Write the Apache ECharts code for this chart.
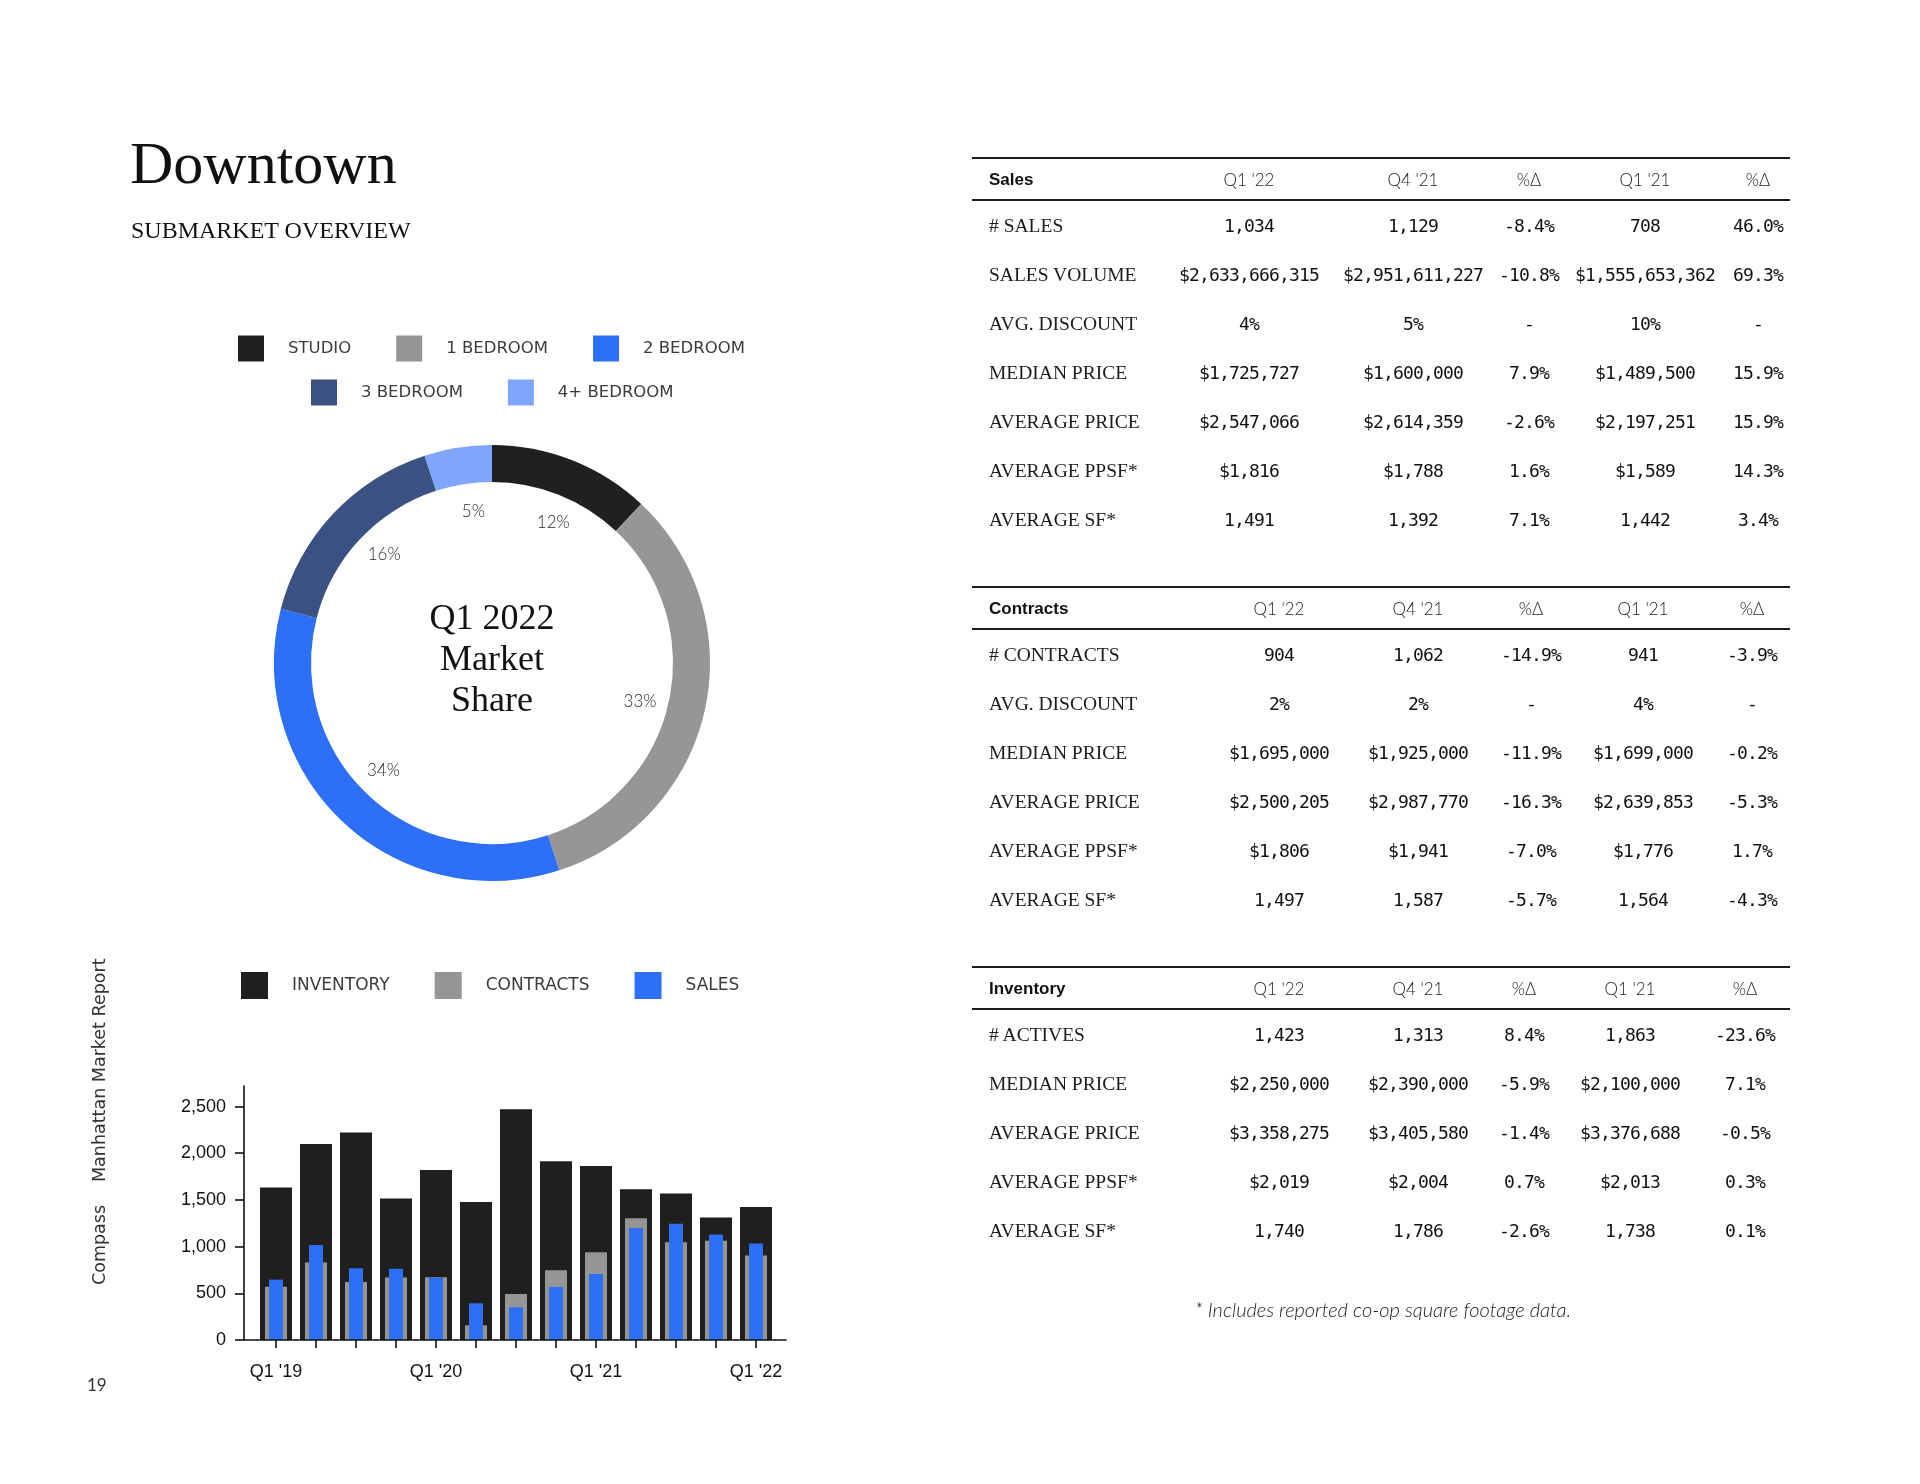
<!DOCTYPE html>
<html>
<head>
<meta charset="utf-8">
<script src="https://cdn.jsdelivr.net/npm/echarts@6/dist/echarts.min.js"></script>
<style>
html,body{margin:0;padding:0;background:#fff;}
#page{position:relative;width:1920px;height:1484px;overflow:hidden;background:#fff;}
#chart{position:absolute;left:0;top:0;width:1920px;height:1484px;}
#overlay{position:absolute;left:0;top:0;width:1920px;height:1484px;pointer-events:none;}
.t{position:absolute;white-space:nowrap;}
.rule{position:absolute;background:#1c1c1c;}
</style>
</head>
<body>
<div id="page"><div id="chart"></div><div id="overlay"></div></div>
<script>
// ---------- Donut data ----------
const unitTypes = ['STUDIO', '1 BEDROOM', '2 BEDROOM', '3 BEDROOM', '4+ BEDROOM'];
const unitShares = [12, 33, 34, 16, 5];
const unitColors = ['#202020', '#969696', '#2d6ff7', '#3a5181', '#7da6fc'];

// ---------- Bar data ----------
const quarters = ["Q1 '19","Q2 '19","Q3 '19","Q4 '19","Q1 '20","Q2 '20","Q3 '20","Q4 '20","Q1 '21","Q2 '21","Q3 '21","Q4 '21","Q1 '22"];
const inventory = [1632, 2100, 2221, 1514, 1821, 1479, 2471, 1914, 1863, 1614, 1568, 1313, 1423];
const contracts = [571, 829, 621, 668, 672, 157, 493, 746, 941, 1304, 1046, 1062, 904];
const sales = [646, 1018, 768, 764, 668, 393, 350, 568, 708, 1200, 1246, 1129, 1034];
const barNames = ['INVENTORY', 'CONTRACTS', 'SALES'];
const barColors = ['#1f1f1f', '#959595', '#2d6ff7'];
const yTicks = [0, 500, 1000, 1500, 2000, 2500];
const xLabelIdx = [0, 4, 8, 12];

// ---------- Table data ----------
const tableHeaders = ["Q1 '22", "Q4 '21", "%Δ", "Q1 '21", "%Δ"];

const salesRows = ['# SALES','SALES VOLUME','AVG. DISCOUNT','MEDIAN PRICE','AVERAGE PRICE','AVERAGE PPSF*','AVERAGE SF*'];
const salesQ122 = ['1,034','$2,633,666,315','4%','$1,725,727','$2,547,066','$1,816','1,491'];
const salesQ421 = ['1,129','$2,951,611,227','5%','$1,600,000','$2,614,359','$1,788','1,392'];
const salesChgQ = ['-8.4%','-10.8%','-','7.9%','-2.6%','1.6%','7.1%'];
const salesQ121 = ['708','$1,555,653,362','10%','$1,489,500','$2,197,251','$1,589','1,442'];
const salesChgY = ['46.0%','69.3%','-','15.9%','15.9%','14.3%','3.4%'];

const contractsRows = ['# CONTRACTS','AVG. DISCOUNT','MEDIAN PRICE','AVERAGE PRICE','AVERAGE PPSF*','AVERAGE SF*'];
const contractsQ122 = ['904','2%','$1,695,000','$2,500,205','$1,806','1,497'];
const contractsQ421 = ['1,062','2%','$1,925,000','$2,987,770','$1,941','1,587'];
const contractsChgQ = ['-14.9%','-','-11.9%','-16.3%','-7.0%','-5.7%'];
const contractsQ121 = ['941','4%','$1,699,000','$2,639,853','$1,776','1,564'];
const contractsChgY = ['-3.9%','-','-0.2%','-5.3%','1.7%','-4.3%'];

const inventoryRows = ['# ACTIVES','MEDIAN PRICE','AVERAGE PRICE','AVERAGE PPSF*','AVERAGE SF*'];
const inventoryQ122 = ['1,423','$2,250,000','$3,358,275','$2,019','1,740'];
const inventoryQ421 = ['1,313','$2,390,000','$3,405,580','$2,004','1,786'];
const inventoryChgQ = ['8.4%','-5.9%','-1.4%','0.7%','-2.6%'];
const inventoryQ121 = ['1,863','$2,100,000','$3,376,688','$2,013','1,738'];
const inventoryChgY = ['-23.6%','7.1%','-0.5%','0.3%','0.1%'];

// ---------- Chart ----------
const chart = echarts.init(document.getElementById('chart'), null, {renderer: 'canvas'});

const xMin = -0.8, xMax = 12.75, yMax = 2720;
const axisColor = '#111';
const legendBase = {
  orient: 'horizontal', padding: 0, icon: 'rect', selectedMode: false,
  textStyle: {fontFamily: 'DejaVu Sans', fontSize: 16.5, color: '#3c3c3c', padding: [0, 0, 0, 19]}
};

const option = {
  animation: false,
  backgroundColor: '#ffffff',
  legend: [
    Object.assign({}, legendBase, {
      data: unitTypes.slice(0, 3).map((n, i) => ({name: n, itemStyle: {color: unitColors[i]}})),
      left: 238, top: 335.5, itemWidth: 26, itemHeight: 26, itemGap: 45
    }),
    Object.assign({}, legendBase, {
      data: unitTypes.slice(3).map((n, i) => ({name: n, itemStyle: {color: unitColors[i + 3]}})),
      left: 311, top: 379.5, itemWidth: 26, itemHeight: 26, itemGap: 45
    }),
    Object.assign({}, legendBase, {
      data: barNames.map((n, i) => ({name: n, itemStyle: {color: barColors[i]}})),
      left: 241, top: 972, itemWidth: 27, itemHeight: 27, itemGap: 45,
      textStyle: {fontFamily: 'DejaVu Sans', fontSize: 17, color: '#3c3c3c', padding: [0, 0, 0, 19]}
    })
  ],
  grid: [{left: 244, top: 1086, width: 542, height: 254, containLabel: false, outerBoundsMode: 'none'}],
  xAxis: [
    {
      type: 'value', gridIndex: 0, min: xMin, max: xMax, position: 'bottom', z: 10,
      axisLine: {show: true, onZero: false, lineStyle: {color: axisColor, width: 1.6}},
      axisTick: {show: true, length: 8, inside: false, lineStyle: {color: axisColor, width: 1.6},
                 customValues: quarters.map((q, i) => i)},
      axisLabel: {show: true, customValues: xLabelIdx, margin: 23,
                  formatter: v => (Number.isInteger(v) && xLabelIdx.indexOf(v) >= 0) ? quarters[v] : '',
                  fontFamily: 'Liberation Sans', fontSize: 18, color: '#111'},
      splitLine: {show: false}
    },
    {type: 'value', gridIndex: 0, min: xMin, max: xMax, show: false},
    {type: 'value', gridIndex: 0, min: xMin, max: xMax, show: false}
  ],
  yAxis: [{
    type: 'value', gridIndex: 0, min: 0, max: yMax, z: 10,
    axisLine: {show: true, onZero: false, lineStyle: {color: axisColor, width: 1.6}},
    axisTick: {show: true, length: 9, inside: false, lineStyle: {color: axisColor, width: 1.6}, customValues: yTicks},
    axisLabel: {show: true, customValues: yTicks, margin: 18,
                formatter: v => (yTicks.indexOf(v) >= 0 ? v.toLocaleString('en-US') : ''),
                fontFamily: 'Liberation Sans', fontSize: 18, color: '#111'},
    splitLine: {show: false}
  }],
  graphic: [{
    type: 'text', x: 492, y: 661, silent: true,
    style: {
      text: 'Q1 2022\nMarket\nShare', fontFamily: 'Liberation Serif', fontSize: 36,
      fill: '#111', align: 'center', verticalAlign: 'middle', lineHeight: 41
    }
  }],
  series: [
    {
      type: 'pie', name: 'Market Share', center: [492, 663], radius: [181, 218],
      startAngle: 90, clockwise: true, silent: true,
      label: {show: false}, labelLine: {show: false}, emphasis: {disabled: true},
      itemStyle: {borderWidth: 0},
      data: unitTypes.map((n, i) => ({name: n, value: unitShares[i], itemStyle: {color: unitColors[i]}}))
    },
    {
      type: 'pie', name: 'Share Labels', center: [492, 663], radius: [124, 176],
      startAngle: 88, clockwise: true, silent: true, emphasis: {disabled: true},
      itemStyle: {color: 'rgba(0,0,0,0)', borderWidth: 0},
      label: {show: true, position: 'inside', formatter: '{c}%',
              fontFamily: 'Lato', fontWeight: 300, fontSize: 17, color: '#2a2a2a'},
      labelLine: {show: false},
      data: unitTypes.map((n, i) => ({name: n, value: unitShares[i], itemStyle: {color: 'rgba(0,0,0,0)'}}))
    },
    {
      type: 'bar', name: barNames[0], xAxisIndex: 0, yAxisIndex: 0, barWidth: 32,
      itemStyle: {color: barColors[0]}, silent: true,
      data: inventory.map((v, i) => [i, v])
    },
    {
      type: 'bar', name: barNames[1], xAxisIndex: 1, yAxisIndex: 0, barWidth: 22,
      itemStyle: {color: barColors[1]}, silent: true,
      data: contracts.map((v, i) => [i, v])
    },
    {
      type: 'bar', name: barNames[2], xAxisIndex: 2, yAxisIndex: 0, barWidth: 14,
      itemStyle: {color: barColors[2]}, silent: true,
      data: sales.map((v, i) => [i, v])
    }
  ]
};
chart.setOption(option);

// ---------- HTML text & tables ----------
const ov = document.getElementById('overlay');
function txt(s, x, cy, style, align) {
  const d = document.createElement('div');
  d.className = 't';
  d.textContent = s;
  Object.assign(d.style, style);
  const h = 40;
  d.style.top = (cy - h / 2) + 'px';
  d.style.height = h + 'px';
  d.style.lineHeight = h + 'px';
  if (align === 'center') {
    d.style.left = (x - 200) + 'px';
    d.style.width = '400px';
    d.style.textAlign = 'center';
  } else {
    d.style.left = x + 'px';
  }
  ov.appendChild(d);
  return d;
}
function rule(x, y, w) {
  const d = document.createElement('div');
  d.className = 'rule';
  d.style.left = x + 'px';
  d.style.top = (y - 1) + 'px';
  d.style.width = w + 'px';
  d.style.height = '2px';
  ov.appendChild(d);
}

const serif = '"Liberation Serif", "DejaVu Serif", serif';
txt('Downtown', 130, 162.5, {fontFamily: serif, fontSize: '60px', color: '#111'});
txt('SUBMARKET OVERVIEW', 131, 230, {fontFamily: serif, fontSize: '24px', color: '#111'});

// vertical side text
function vtext(s, x, yBottom) {
  const d = document.createElement('div');
  d.className = 't';
  d.textContent = s;
  Object.assign(d.style, {
    fontFamily: '"DejaVu Sans", sans-serif', fontSize: '17.5px', color: '#333',
    lineHeight: '20px', height: '20px', left: x + 'px', top: yBottom + 'px',
    transformOrigin: '0 0', transform: 'rotate(-90deg)'
  });
  ov.appendChild(d);
}
vtext('Manhattan Market Report', 88.5, 1182);
vtext('Compass', 88.5, 1284.5);
txt('19', 87, 1384.5, {fontFamily: 'Lato, "Liberation Sans", sans-serif', fontSize: '17px', color: '#333'});

// tables
const ruleLeft = 972, ruleWidth = 818, labelLeft = 989, rowStep = 49;
const salesColX = [1249, 1413, 1529, 1645, 1758];
const contractsColX = [1279, 1418, 1531, 1643, 1752];
const inventoryColX = [1279, 1418, 1524, 1630, 1745];
const tables = [
  {title: 'Sales', rows: salesRows, cols: [salesQ122, salesQ421, salesChgQ, salesQ121, salesChgY], top: 158.3, colX: salesColX},
  {title: 'Contracts', rows: contractsRows, cols: [contractsQ122, contractsQ421, contractsChgQ, contractsQ121, contractsChgY], top: 587, colX: contractsColX},
  {title: 'Inventory', rows: inventoryRows, cols: [inventoryQ122, inventoryQ421, inventoryChgQ, inventoryQ121, inventoryChgY], top: 967.3, colX: inventoryColX}
];
const headStyle = {fontFamily: '"Liberation Sans", Arial, sans-serif', fontWeight: 'bold', fontSize: '17px', color: '#111'};
const qStyle = {fontFamily: 'Lato, "Liberation Sans", sans-serif', fontWeight: '300', fontSize: '17px', color: '#1e1e1e'};
const labelStyle = {fontFamily: serif, fontSize: '19.5px', color: '#1c1c1c'};
const monoStyle = {fontFamily: '"DejaVu Sans Mono", "Liberation Mono", monospace', fontSize: '18px', letterSpacing: '-0.84px', color: '#111'};

tables.forEach(t => {
  rule(ruleLeft, t.top, ruleWidth);
  const hy = t.top + 21.7;
  txt(t.title, labelLeft, hy, headStyle);
  tableHeaders.forEach((h, j) => txt(h, t.colX[j], hy, qStyle, 'center'));
  rule(ruleLeft, t.top + 41.5, ruleWidth);
  t.rows.forEach((r, i) => {
    const ry = t.top + 67.5 + i * rowStep;
    txt(r, labelLeft, ry, labelStyle);
    t.cols.forEach((col, j) => txt(col[i], t.colX[j], ry, monoStyle, 'center'));
  });
});

txt('* Includes reported co-op square footage data.', 1383, 1309,
    {fontFamily: 'Lato, "Liberation Sans", sans-serif', fontStyle: 'italic', fontWeight: '300', fontSize: '20px', color: '#222'}, 'center');
</script>
</body>
</html>
